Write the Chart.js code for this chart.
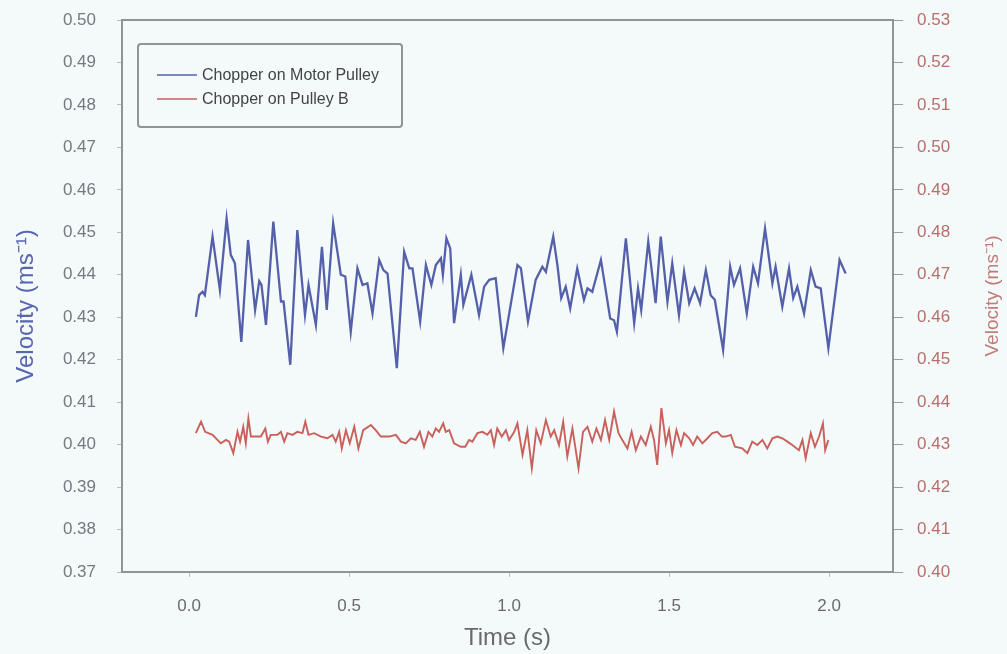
<!DOCTYPE html>
<html>
<head>
<meta charset="utf-8">
<script src="https://cdn.jsdelivr.net/npm/chart.js@4/dist/chart.umd.min.js"></script>
<style>
  html, body { margin: 0; padding: 0; background: #f4f9f9; }
  #wrap { width: 1007px; height: 654px; }
</style>
</head>
<body>
<div id="wrap"><canvas id="chart" width="1007" height="654"></canvas></div>
<script>
// ---------- DATA ----------
const seriesNames = ["Chopper on Motor Pulley", "Chopper on Pulley B"];

const blueTime = [0.021,0.031,0.042,0.049,0.073,0.096,0.117,0.130,0.143,0.163,0.184,0.206,0.219,0.226,0.240,0.263,0.287,0.295,0.316,0.338,
  0.362,0.373,0.396,0.415,0.430,0.450,0.474,0.488,0.505,0.526,0.542,0.557,0.573,0.594,0.607,0.620,0.649,0.672,0.688,0.698,
  0.722,0.740,0.757,0.771,0.787,0.793,0.804,0.816,0.828,0.849,0.857,0.882,0.896,0.906,0.922,0.938,0.958,0.982,1.026,1.037,
  1.059,1.083,1.104,1.115,1.138,1.151,1.163,1.177,1.191,1.213,1.234,1.245,1.260,1.287,1.316,1.328,1.337,1.365,1.391,1.403,
  1.413,1.435,1.458,1.474,1.495,1.510,1.531,1.547,1.563,1.580,1.597,1.615,1.630,1.643,1.669,1.691,1.703,1.722,1.743,1.763,
  1.778,1.800,1.823,1.833,1.854,1.875,1.888,1.901,1.922,1.943,1.958,1.974,1.998,2.033,2.052];
const blueVel = [0.4301,0.4352,0.4360,0.4352,0.4490,0.4364,0.4533,0.4447,0.4427,0.4242,0.4482,0.4317,0.4385,0.4376,0.4282,0.4525,0.4337,0.4337,0.4188,0.4505,
  0.4305,0.4376,0.4282,0.4466,0.4317,0.4521,0.4400,0.4396,0.4266,0.4415,0.4376,0.4380,0.4309,0.4435,0.4411,0.4403,0.4180,0.4454,0.4415,0.4415,
  0.4290,0.4423,0.4376,0.4423,0.4439,0.4400,0.4486,0.4462,0.4286,0.4400,0.4329,0.4400,0.4345,0.4305,0.4372,0.4388,0.4392,0.4227,0.4423,0.4415,
  0.4290,0.4388,0.4419,0.4407,0.4490,0.4423,0.4345,0.4372,0.4321,0.4415,0.4341,0.4368,0.4360,0.4435,0.4297,0.4293,0.4266,0.4486,0.4286,0.4368,
  0.4317,0.4478,0.4333,0.4490,0.4337,0.4427,0.4305,0.4407,0.4333,0.4368,0.4333,0.4411,0.4352,0.4341,0.4223,0.4419,0.4376,0.4415,0.4309,0.4419,
  0.4380,0.4509,0.4380,0.4419,0.4325,0.4415,0.4345,0.4372,0.4309,0.4411,0.4372,0.4368,0.4227,0.4435,0.4403];

const redTime = [0.021,0.037,0.050,0.073,0.099,0.115,0.125,0.138,0.151,0.159,0.169,0.177,0.185,0.193,0.203,0.224,0.238,0.246,0.255,0.276,
  0.287,0.297,0.307,0.323,0.338,0.354,0.363,0.373,0.391,0.412,0.432,0.448,0.458,0.469,0.477,0.490,0.502,0.516,0.529,0.544,
  0.568,0.583,0.599,0.625,0.646,0.662,0.677,0.693,0.708,0.721,0.734,0.748,0.760,0.771,0.781,0.794,0.802,0.813,0.828,0.849,
  0.863,0.875,0.885,0.901,0.917,0.932,0.943,0.953,0.963,0.977,0.990,1.000,1.016,1.026,1.042,1.057,1.071,1.085,1.099,1.115,
  1.130,1.141,1.156,1.169,1.182,1.198,1.217,1.231,1.245,1.260,1.273,1.287,1.300,1.313,1.328,1.342,1.354,1.370,1.383,1.396,
  1.412,1.427,1.443,1.453,1.463,1.476,1.490,1.500,1.510,1.523,1.537,1.547,1.563,1.575,1.588,1.604,1.620,1.635,1.651,1.665,
  1.677,1.693,1.706,1.729,1.745,1.760,1.776,1.792,1.807,1.823,1.838,1.854,1.870,1.885,1.906,1.917,1.927,1.943,1.956,1.969,
  1.981,1.988,1.998];
const redVel = [0.4327,0.4354,0.4330,0.4323,0.4303,0.4311,0.4307,0.4280,0.4330,0.4307,0.4342,0.4303,0.4362,0.4319,0.4319,0.4319,0.4338,0.4307,0.4323,0.4323,
  0.4330,0.4307,0.4327,0.4323,0.4330,0.4327,0.4354,0.4323,0.4327,0.4319,0.4315,0.4323,0.4307,0.4330,0.4291,0.4334,0.4303,0.4342,0.4291,0.4334,
  0.4346,0.4334,0.4319,0.4319,0.4323,0.4307,0.4303,0.4315,0.4311,0.4330,0.4295,0.4330,0.4319,0.4338,0.4330,0.4350,0.4330,0.4334,0.4303,0.4295,
  0.4295,0.4311,0.4307,0.4327,0.4330,0.4323,0.4334,0.4299,0.4338,0.4319,0.4334,0.4311,0.4330,0.4350,0.4276,0.4334,0.4244,0.4334,0.4303,0.4358,
  0.4319,0.4334,0.4299,0.4354,0.4272,0.4338,0.4244,0.4330,0.4342,0.4307,0.4338,0.4311,0.4358,0.4311,0.4378,0.4327,0.4311,0.4291,0.4330,0.4287,
  0.4319,0.4299,0.4342,0.4311,0.4252,0.4386,0.4303,0.4334,0.4280,0.4334,0.4299,0.4327,0.4315,0.4299,0.4319,0.4303,0.4315,0.4327,0.4330,0.4319,
  0.4319,0.4323,0.4295,0.4291,0.4280,0.4307,0.4299,0.4311,0.4291,0.4315,0.4319,0.4315,0.4307,0.4299,0.4287,0.4311,0.4268,0.4327,0.4295,0.4319,
  0.4350,0.4287,0.4311];

const xTicks     = [0.0, 0.5, 1.0, 1.5, 2.0];
const leftTicks  = [0.37,0.38,0.39,0.40,0.41,0.42,0.43,0.44,0.45,0.46,0.47,0.48,0.49,0.50];
const rightTicks = [0.40,0.41,0.42,0.43,0.44,0.45,0.46,0.47,0.48,0.49,0.50,0.51,0.52,0.53];

const BLUE = "#5560aa";
const RED  = "#c8605c";
const FRAME = "#8f9496";
const FONT = "'Liberation Sans', Arial, sans-serif";

function pairs(xs, ys) { return xs.map((x, i) => ({ x: x, y: ys[i] })); }

// fixed scale box, no extra label padding at the ends
function fixWidth(w) {
  return s => { s.width = w; s.paddingTop = 0; s.paddingBottom = 0; };
}

// frame, legend box and the two rotated axis titles
const decor = {
  id: "decor",
  afterDraw(chart) {
    const ctx = chart.ctx;
    const a = chart.chartArea;
    ctx.save();
    ctx.strokeStyle = FRAME;
    ctx.lineWidth = 2;
    ctx.strokeRect(a.left, a.top, a.right - a.left, a.bottom - a.top);

    // legend
    ctx.beginPath();
    ctx.roundRect(138, 44, 264, 83, 3);
    ctx.stroke();
    ctx.font = "16px " + FONT;
    ctx.textBaseline = "middle";
    chart.data.datasets.forEach((ds, i) => {
      const y = 75 + i * 24;
      ctx.strokeStyle = ds.borderColor;
      ctx.lineWidth = 1.5;
      ctx.beginPath();
      ctx.moveTo(157, y);
      ctx.lineTo(197, y);
      ctx.stroke();
      ctx.fillStyle = "#444";
      ctx.fillText(ds.label, 202, y + 1);
    });

    // axis titles, both read bottom to top
    ctx.textAlign = "center";
    ctx.save();
    ctx.translate(26, 306);
    ctx.rotate(-Math.PI / 2);
    ctx.font = "24px " + FONT;
    ctx.fillStyle = "#5866b0";
    ctx.fillText("Velocity (ms⁻¹)", 0, 0);
    ctx.restore();

    ctx.translate(993, 296);
    ctx.rotate(-Math.PI / 2);
    ctx.font = "19px " + FONT;
    ctx.fillStyle = "#c07a78";
    ctx.fillText("Velocity (ms⁻¹)", 0, 0);
    ctx.restore();
  }
};

new Chart(document.getElementById("chart"), {
  type: "line",
  data: {
    datasets: [
      { label: seriesNames[0], data: pairs(blueTime, blueVel), yAxisID: "y",
        borderColor: BLUE, borderWidth: 2.3, pointRadius: 0, tension: 0 },
      { label: seriesNames[1], data: pairs(redTime, redVel), yAxisID: "y1",
        borderColor: RED, borderWidth: 1.9, pointRadius: 0, tension: 0 }
    ]
  },
  options: {
    responsive: false,
    animation: false,
    layout: { padding: { top: 20, left: 0, right: 0, bottom: 0 } },
    plugins: { legend: { display: false }, tooltip: { enabled: false } },
    scales: {
      x: {
        type: "linear", min: -0.21, max: 2.2,
        afterBuildTicks: s => { s.ticks = xTicks.map(v => ({ value: v })); },
        afterFit: s => { s.height = 82; },
        grid: { drawOnChartArea: false, drawTicks: true, tickLength: 5, color: "#b8bcbe" },
        border: { display: false },
        ticks: { padding: 21, color: "#6a6a6a", font: { family: FONT, size: 17, lineHeight: 1 },
                 maxRotation: 0, callback: v => v.toFixed(1) },
        title: { display: true, text: "Time (s)", color: "#6a6a6a",
                 font: { family: FONT, size: 24 }, padding: { top: 0, bottom: 1 } }
      },
      y: {
        position: "left", min: 0.37, max: 0.50,
        afterBuildTicks: s => { s.ticks = leftTicks.map(v => ({ value: v })); },
        afterFit: fixWidth(122),
        grid: { drawOnChartArea: false, drawTicks: true, tickLength: 5, color: "#b8bcbe" },
        border: { display: false },
        ticks: { padding: 21, color: "#747a80", font: { family: FONT, size: 17, lineHeight: 1 },
                 callback: v => v.toFixed(2) }
      },
      y1: {
        position: "right", min: 0.40, max: 0.53,
        afterBuildTicks: s => { s.ticks = rightTicks.map(v => ({ value: v })); },
        afterFit: fixWidth(114),
        grid: { drawOnChartArea: false, drawTicks: true, tickLength: 10, color: "#9a9ea0" },
        border: { display: false },
        ticks: { padding: 14, color: "#b86e6c", font: { family: FONT, size: 17, lineHeight: 1 },
                 callback: v => v.toFixed(2) }
      }
    }
  },
  plugins: [decor]
});
</script>
</body>
</html>
